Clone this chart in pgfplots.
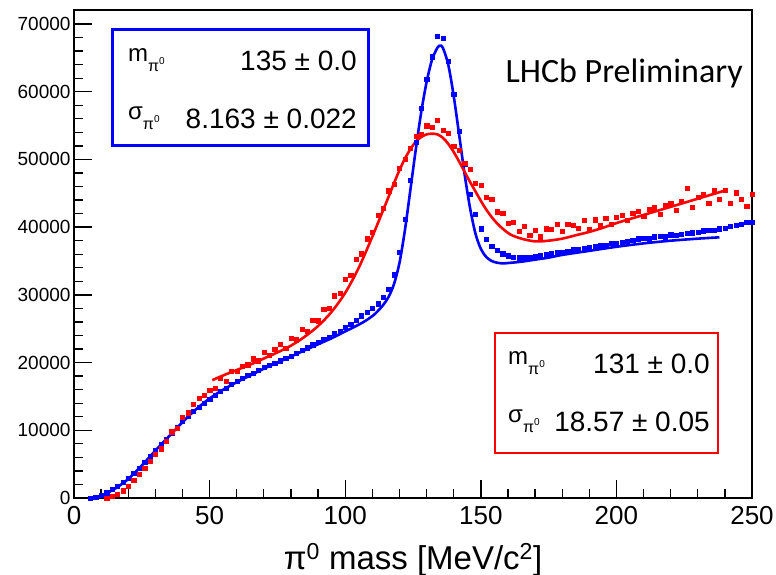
\documentclass[border=0pt]{standalone}
\usepackage{fontspec}
\setmainfont{Liberation Sans}
\newfontfamily\carlito{Carlito}
\usepackage{pgfplots}
\pgfplotsset{compat=1.18}
\newcommand{\subpi}{\raisebox{-10pt}{\fontsize{16}{16}\selectfont π\raisebox{7pt}{\fontsize{10}{10}\selectfont 0}}}
\begin{document}
\begin{tikzpicture}
\useasboundingbox (-74pt,-77pt) rectangle (702pt,498pt);
\begin{axis}[
 scale only axis, width=678pt, height=488pt,
 xmin=0, xmax=250, ymin=0, ymax=72070,
 axis line style={line width=1.3pt},
 xtick pos=bottom, ytick pos=left, tick align=inside,
 xtick={0,50,...,250}, ytick={0,10000,...,70000},
 minor x tick num=4, minor y tick num=4,
 major tick style={line width=1.4pt, draw=black},
 minor tick style={line width=1.3pt, draw=black},
 major tick length=18pt, minor tick length=8.5pt,
 axis on top,
 scaled y ticks=false,
 /pgf/number format/1000 sep={},
 /pgf/number format/assume math mode=true,
 xticklabel style={font=\fontsize{26}{26}\selectfont, anchor=base, yshift=-27pt},
 yticklabel style={font=\fontsize{19}{19}\selectfont},
 xlabel={π\textsuperscript{0} mass [MeV/c\textsuperscript{2}]},
 xlabel style={font=\fontsize{33}{33}\selectfont, at={(axis description cs:0.5,0)}, anchor=base, yshift=-71pt},
]
% blue data
\addplot[only marks, mark=square*, mark size=2.1pt, blue, mark options={fill=blue, draw=blue, line width=0.2pt}] table {
x y
6 0
8 150
10 400
12 800
14 1300
16 1800
18 2350
20 2950
22 3650
24 4450
26 5300
28 6200
30 7100
32 7900
34 8700
36 9550
38 10400
40 11300
42 12100
44 12800
46 13450
48 14050
50 14600
52 15200
54 15750
56 16250
58 16850
60 17250
62 17650
64 18100
66 18450
68 18900
70 19300
72 19600
74 19900
76 20300
78 20650
80 21000
82 21400
84 21800
86 22200
88 22650
90 23000
92 23450
94 23800
96 24300
98 24700
100 25200
102 25700
104 26300
106 26950
108 27500
110 28000
112 28700
114 29700
116 30900
118 33000
120 36300
122 41200
124 46900
126 52600
128 57600
130 61900
132 65200
134 68200
136 67900
138 64500
140 59700
142 54200
144 49300
146 44900
148 41900
150 39800
152 38200
154 37200
156 36600
158 36100
160 35800
162 35600
164 35500
166 35600
168 35500
170 35700
172 35800
174 36000
176 36100
178 36300
180 36250
182 36500
184 36700
186 36800
188 36900
190 37100
192 37200
194 37400
196 37300
198 37600
200 37700
202 37800
204 37900
206 38100
208 38300
210 38400
212 38300
214 38600
216 38700
218 38600
220 38900
222 38800
224 39000
226 39100
228 39200
230 39300
232 39500
234 39600
236 39600
238 39800
240 39900
242 40100
244 40300
246 40400
248 40700
250 40800
};
% red data
\addplot[only marks, mark=square*, mark size=2.1pt, red, mark options={fill=red, draw=red, line width=0.2pt}] table {
x y
12 0
14 250
16 600
18 1100
20 1800
22 2600
24 3500
26 4400
28 5500
30 6500
32 7300
34 8400
36 9800
38 10300
40 11900
42 12600
44 13900
46 14700
48 15200
50 15900
52 16200
54 17700
56 17300
58 18700
60 18700
62 19500
64 19700
66 20600
68 20300
70 21500
72 21100
74 22000
76 22700
78 22100
80 23600
82 23400
84 24900
86 24700
88 26300
90 26200
92 27900
94 28100
96 29900
98 30300
100 32300
102 32900
104 35300
106 36100
108 38300
110 39300
112 41800
114 42800
116 45400
118 46400
120 48700
122 50100
124 51700
126 53400
128 53800
130 55000
132 54800
134 55800
136 54300
138 53900
140 52000
142 51400
144 49400
146 48600
148 46500
150 46200
152 44400
154 44200
156 42300
158 42100
160 40600
162 40700
164 39400
166 40200
168 38800
170 39600
172 38600
174 39800
176 39700
178 40400
180 39400
182 40500
184 40300
186 39900
188 41000
190 39700
192 41100
194 40300
196 41300
198 40500
200 41500
202 41800
204 41000
206 42100
208 42400
210 41600
212 42700
214 42900
216 41900
218 43300
220 43600
222 42500
224 43900
226 45800
228 43000
230 44400
232 44900
234 43500
236 45400
238 44100
240 45500
242 43600
244 45100
246 44200
248 43100
250 44900
};
% blue fit
\addplot[blue, line width=2.6pt, no markers, smooth] table {
x y
7 0
10 300
15 1350
20 2800
25 4800
30 7000
35 9100
40 11200
45 13100
50 14700
55 16000
60 17100
65 18100
70 19100
75 20000
80 20900
85 21800
90 22700
95 23600
100 24600
105 25600
108 26300
111 27200
114 28500
116 29700
118 31600
120 34700
122 39500
124 45400
126 51400
128 56900
130 61400
132 64700
134 66500
135 66800
136 66500
138 64000
140 59400
142 53700
144 47900
146 42900
148 39100
150 36800
152 35600
154 35000
156 34750
158 34650
160 34700
165 34900
170 35200
175 35500
180 35900
190 36500
200 37100
210 37600
220 38000
230 38300
238 38500
};
% red fit
\addplot[red, line width=2.6pt, no markers, smooth] table {
x y
51 17400
55 18100
60 18900
65 19700
70 20600
75 21500
80 22500
85 23800
90 25400
95 27500
100 30300
105 34000
110 38600
115 43500
118 46500
120 48400
122 50100
124 51500
126 52600
128 53300
130 53700
132 53800
134 53700
136 53200
138 52300
140 51100
142 49700
144 48200
146 46700
148 45300
150 43900
152 42600
155 41000
158 39800
161 38900
165 38300
170 37900
175 38000
180 38300
185 38800
190 39300
195 39900
200 40600
210 41800
220 43000
230 44200
240 45400
};
% stat boxes
\draw[blue, line width=3pt, fill=white] (rel axis cs:0.0575,0.723) rectangle (rel axis cs:0.435,0.959);
\node[anchor=base west, inner sep=0pt, font=\fontsize{24}{24}\selectfont] at ([yshift=9pt]rel axis cs:0.0796,0.877) {m\subpi};
\node[anchor=base east, inner sep=0pt, font=\fontsize{28}{28}\selectfont] at (rel axis cs:0.4174,0.877) {135 ± 0.0};
\node[anchor=base west, inner sep=0pt, font=\fontsize{24}{24}\selectfont] at ([yshift=9pt]rel axis cs:0.0796,0.758) {σ\subpi};
\node[anchor=base east, inner sep=0pt, font=\fontsize{28}{28}\selectfont] at (rel axis cs:0.4174,0.758) {8.163 ± 0.022};
\draw[red, line width=2.5pt, fill=white] (rel axis cs:0.621,0.092) rectangle (rel axis cs:0.9499,0.338);
\node[anchor=base west, inner sep=0pt, font=\fontsize{24}{24}\selectfont] at ([yshift=9pt]rel axis cs:0.621,0.256) {\hspace*{13pt}m\subpi};
\node[anchor=base east, inner sep=0pt, font=\fontsize{28}{28}\selectfont] at (rel axis cs:0.938,0.256) {131 ± 0.0};
\node[anchor=base west, inner sep=0pt, font=\fontsize{24}{24}\selectfont] at ([yshift=9pt]rel axis cs:0.621,0.137) {\hspace*{13pt}σ\subpi};
\node[anchor=base east, inner sep=0pt, font=\fontsize{28}{28}\selectfont] at (rel axis cs:0.938,0.137) {18.57 ± 0.05};
\node[anchor=base east, inner sep=0pt, font=\carlito\fontsize{34}{34}\selectfont] at (rel axis cs:0.9867,0.8504) {LHCb Preliminary};
\end{axis}
\end{tikzpicture}
\end{document}
